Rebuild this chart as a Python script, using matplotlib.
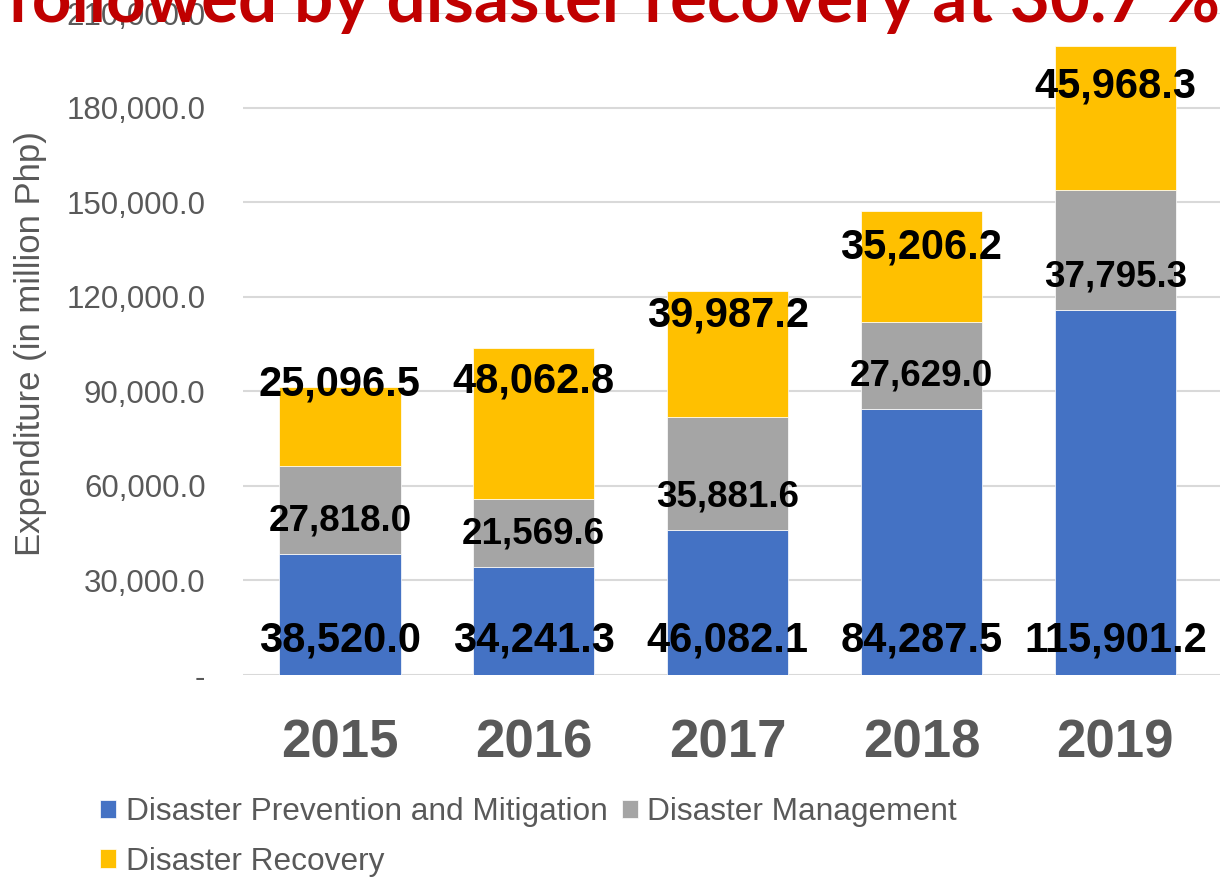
import matplotlib
matplotlib.use("Agg")
import matplotlib.pyplot as plt
import numpy as np

years = ["2015", "2016", "2017", "2018", "2019"]
prevention = [38520.0, 34241.3, 46082.1, 84287.5, 115901.2]
management = [27818.0, 21569.6, 35881.6, 27629.0, 37795.3]
recovery = [25096.5, 48062.8, 39987.2, 35206.2, 45968.3]
series_names = ["Disaster Prevention and Mitigation", "Disaster Management", "Disaster Recovery"]
y_ticks = [0, 30000, 60000, 90000, 120000, 150000, 180000, 210000]
title_text = "followed by disaster recovery at 30.7 %"

# layout of the hand-placed recovery labels (pixels relative to the bar top)
dr_label_offset_px = [2, -34, -25, -36, -41]

colors = ["#4472C4", "#A5A5A5", "#FFC000"]
TXT = "#595959"

plt.rcParams['font.family'] = ['Liberation Sans', 'DejaVu Sans']

W, H = 1220, 877
fig = plt.figure(figsize=(W / 100, H / 100), dpi=100)
ax = fig.add_axes([243 / W, 1 - 675 / H, 1 - 243 / W, (675 - 13) / H])

x = np.arange(len(years))
bw = 0.625
b1 = ax.bar(x, prevention, bw, color=colors[0], edgecolor="white", linewidth=0.5, zorder=3, label=series_names[0])
b2 = ax.bar(x, management, bw, bottom=prevention, color=colors[1], edgecolor="white", linewidth=0.5, zorder=3, label=series_names[1])
bottom3 = np.array(prevention) + np.array(management)
b3 = ax.bar(x, recovery, bw, bottom=bottom3, color=colors[2], edgecolor="white", linewidth=0.5, zorder=3, label=series_names[2])

ax.set_xlim(-0.5, 4.54)
ax.set_ylim(0, 210000)
ax.set_yticks(y_ticks)
ax.set_yticklabels(["-" if v == 0 else f"{v:,.1f}" for v in y_ticks])
ax.set_xticks(x)
ax.set_xticklabels(years)
ax.tick_params(axis="y", length=0, pad=27, labelsize=22.5, labelcolor=TXT)
ax.tick_params(axis="x", length=0, pad=31, labelsize=38, labelcolor=TXT)
for lab in ax.get_xticklabels():
    lab.set_fontweight("bold")
ax.grid(axis="y", color="#D9D9D9", linewidth=1.5, zorder=0)
ax.set_axisbelow(True)
for s in ax.spines.values():
    s.set_visible(False)

ax.set_ylabel("Expenditure (in million Php)", fontsize=25, color=TXT)
ax.yaxis.label.set_va("center")
ax.yaxis.set_label_coords(-(243 - 31) / (W - 243), (675 - 344) / (675 - 13))

# data labels
for i in range(len(years)):
    ax.annotate(f"{prevention[i]:,.1f}", (x[i], 0), xytext=(0, 35 * 0.72),
                textcoords="offset points", ha="center", va="center",
                fontsize=30, fontweight="bold", color="black", zorder=5)
    ax.annotate(f"{management[i]:,.1f}", (x[i], prevention[i]), xytext=(0, 33 * 0.72),
                textcoords="offset points", ha="center", va="center",
                fontsize=26.5, fontweight="bold", color="black", zorder=5)
    top = bottom3[i] + recovery[i]
    ax.annotate(f"{recovery[i]:,.1f}", (x[i], top), xytext=(0, dr_label_offset_px[i] * 0.72),
                textcoords="offset points", ha="center", va="center",
                fontsize=30, fontweight="bold", color="black", zorder=5)

# legend (row-wise order)
handles = [b1, b3, b2]
labels = [series_names[0], series_names[2], series_names[1]]
leg = fig.legend(handles, labels, loc="upper left", bbox_to_anchor=(100 / W, 1 - 797 / H),
                 ncol=2, frameon=False, fontsize=22.8, handlelength=0.52, handleheight=0.52,
                 handletextpad=0.29, columnspacing=0.45, labelspacing=0.62,
                 borderpad=0, borderaxespad=0)
for t in leg.get_texts():
    t.set_color(TXT)

# cut-off title
title = fig.text(7 / W, 1 - 22 / H, title_text, fontsize=60, fontweight="bold",
                 color="#C00000", family=["Lato", "DejaVu Sans"], va="baseline", ha="left", zorder=10)
fig.canvas.draw()
r = fig.canvas.get_renderer()
probe = fig.text(0, 0, "followed by disaster recovery at 30.7", fontsize=60, fontweight="bold",
                 family=["Lato", "DejaVu Sans"])
wpx = probe.get_window_extent(r).width
probe.remove()
title.set_fontsize(60 * (1141 / wpx))

fig.savefig("out.png", dpi=100)
